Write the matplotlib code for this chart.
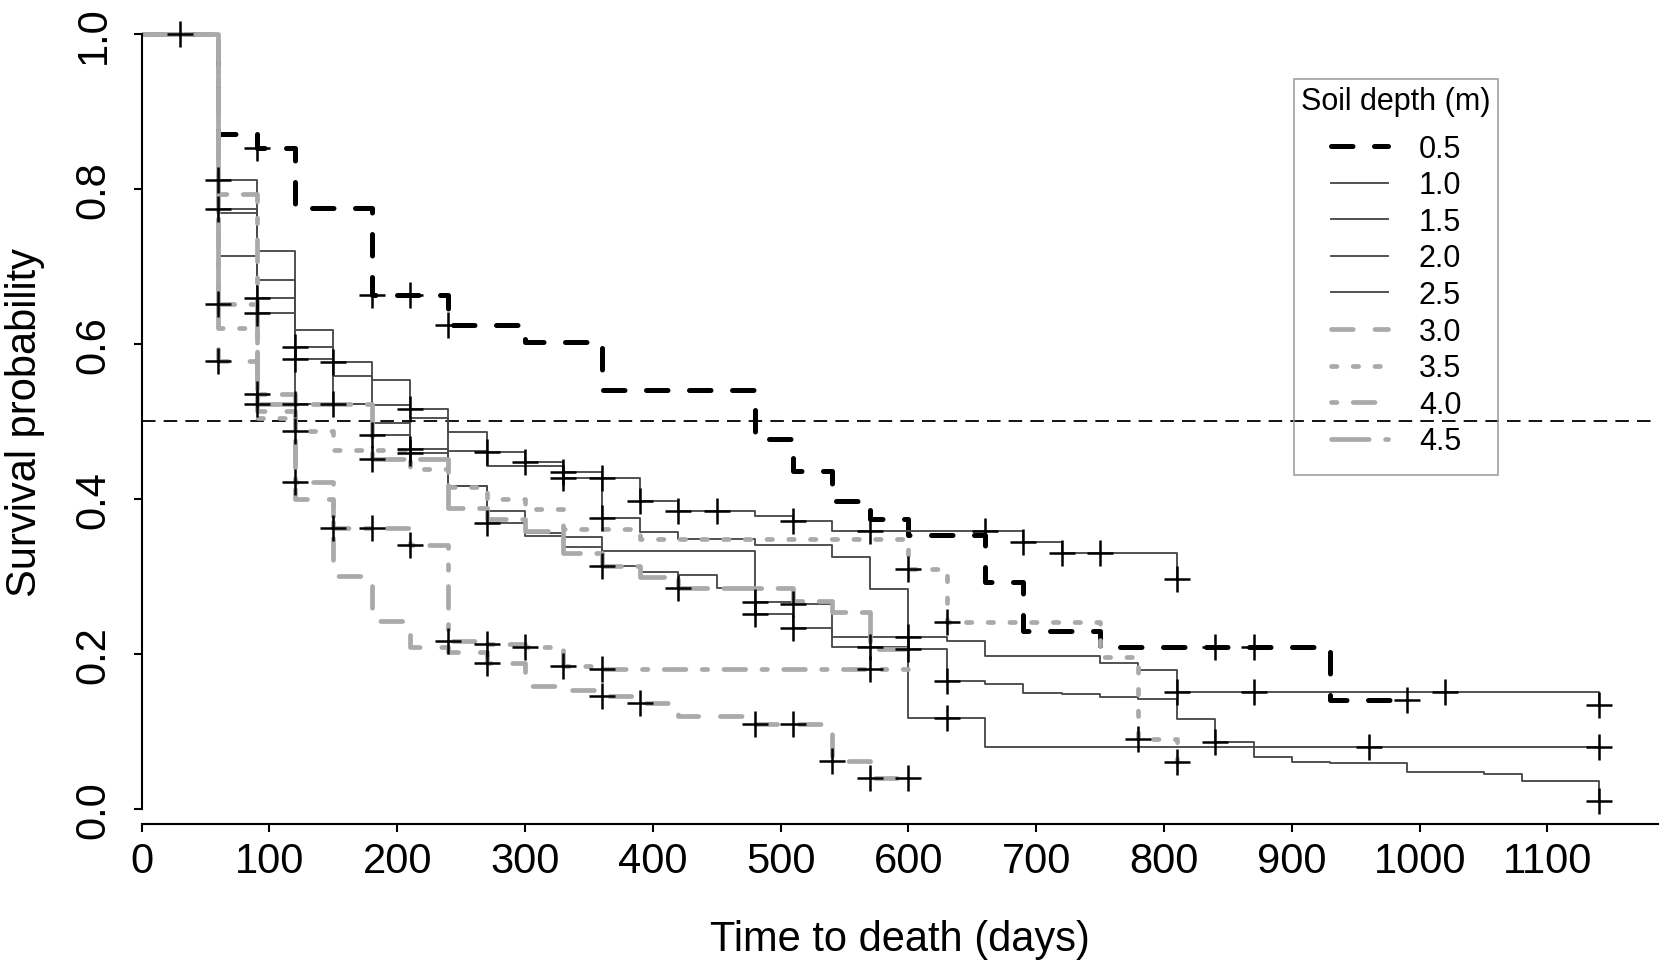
import matplotlib
matplotlib.use("Agg")
import matplotlib.pyplot as plt
from matplotlib.lines import Line2D
from matplotlib.patches import Rectangle

plt.rcParams['font.family'] = ['Liberation Sans', 'DejaVu Sans']

# ---------------- data ----------------
depth_labels = ["0.5", "1.0", "1.5", "2.0", "2.5", "3.0", "3.5", "4.0", "4.5"]

# 0.5 m
t05 = [0, 60, 90, 120, 180, 240, 300, 360, 480, 510, 540, 570, 600, 660, 690, 750, 930, 990]
s05 = [1.0, 0.871, 0.853, 0.776, 0.663, 0.624, 0.603, 0.541, 0.478, 0.436, 0.397, 0.374,
       0.354, 0.2925, 0.230, 0.209, 0.140, 0.140]
ct05 = [30, 90, 180, 210, 240, 840, 870, 990]
cs05 = [1.0, 0.853, 0.663, 0.663, 0.624, 0.209, 0.209, 0.140]

# 1.0 m
t10 = [0, 60, 90, 120, 150, 180, 210, 240, 270, 300, 330, 360, 390, 420, 480, 510, 540, 690, 720, 810]
s10 = [1.0, 0.812, 0.720, 0.6185, 0.577, 0.553, 0.516, 0.487, 0.461, 0.448, 0.435, 0.427,
       0.397, 0.384, 0.3785, 0.372, 0.359, 0.345, 0.330, 0.297]
ct10 = [60, 150, 210, 270, 300, 330, 360, 390, 420, 450, 510, 570, 660, 690, 720, 750, 810]
cs10 = [0.812, 0.577, 0.516, 0.461, 0.448, 0.435, 0.427, 0.397, 0.384, 0.384, 0.372, 0.359,
        0.359, 0.345, 0.330, 0.330, 0.297]

# 1.5 m
t15 = [0, 60, 90, 120, 150, 180, 210, 240, 270, 330, 360, 390, 420, 480, 540, 570, 600, 630,
       660, 750, 780, 810, 1140]
s15 = [1.0, 0.774, 0.682, 0.596, 0.559, 0.521, 0.505, 0.462, 0.443, 0.427, 0.376, 0.358,
       0.348, 0.341, 0.325, 0.284, 0.222, 0.217, 0.198, 0.189, 0.179, 0.151, 0.134]
ct15 = [60, 120, 330, 360, 600, 810, 870, 1020, 1140]
cs15 = [0.774, 0.596, 0.427, 0.376, 0.222, 0.151, 0.151, 0.151, 0.134]

# 2.0 m
t20 = [0, 60, 90, 120, 150, 180, 210, 240, 270, 300, 330, 360, 480, 510, 540, 600, 630, 660,
       690, 720, 750, 780, 810, 840, 870, 1140]
s20 = [1.0, 0.769, 0.659, 0.581, 0.523, 0.498, 0.464, 0.417, 0.384, 0.356, 0.351, 0.333,
       0.267, 0.2645, 0.222, 0.206, 0.1656, 0.161, 0.150, 0.148, 0.145, 0.142, 0.116, 0.087,
       0.0796, 0.0796]
ct20 = [90, 120, 210, 480, 510, 600, 630, 840, 960, 1140]
cs20 = [0.659, 0.581, 0.464, 0.267, 0.2645, 0.206, 0.1656, 0.087, 0.0796, 0.0796]

# 2.5 m
t25 = [0, 60, 90, 120, 180, 210, 240, 270, 300, 330, 360, 390, 420, 450, 480, 510, 540, 600,
       660, 870, 900, 930, 990, 1050, 1080, 1140]
s25 = [1.0, 0.713, 0.640, 0.523, 0.483, 0.459, 0.417, 0.369, 0.352, 0.338, 0.314, 0.306,
       0.302, 0.285, 0.252, 0.234, 0.209, 0.118, 0.0796, 0.0667, 0.061, 0.0594, 0.0473,
       0.0452, 0.0366, 0.0099]
ct25 = [90, 120, 150, 180, 210, 270, 360, 480, 510, 570, 630, 1140]
cs25 = [0.640, 0.523, 0.523, 0.483, 0.459, 0.369, 0.314, 0.252, 0.234, 0.209, 0.118, 0.0099]

# 3.0 m
t30 = [0, 60, 90, 120, 150, 180, 210, 240, 270, 300, 330, 360, 390, 420, 480, 540, 570, 600]
s30 = [1.0, 0.578, 0.513, 0.400, 0.301, 0.243, 0.2086, 0.202, 0.188, 0.159, 0.153, 0.146,
       0.137, 0.120, 0.110, 0.062, 0.040, 0.040]
ct30 = [60, 270, 360, 390, 480, 510, 540, 570, 600]
cs30 = [0.578, 0.188, 0.146, 0.137, 0.110, 0.110, 0.062, 0.040, 0.040]

# 3.5 m
t35 = [0, 60, 90, 120, 150, 210, 240, 270, 300, 330, 390, 600, 630, 750, 780, 810]
s35 = [1.0, 0.620, 0.505, 0.488, 0.4637, 0.4387, 0.415, 0.400, 0.387, 0.361, 0.348, 0.310,
       0.241, 0.196, 0.0903, 0.0606]
ct35 = [120, 600, 630, 780, 810]
cs35 = [0.488, 0.310, 0.241, 0.0903, 0.0606]

# 4.0 m
t40 = [0, 60, 90, 120, 150, 210, 240, 270, 300, 330, 360, 600]
s40 = [1.0, 0.794, 0.5355, 0.4215, 0.363, 0.340, 0.217, 0.213, 0.209, 0.185, 0.180, 0.180]
ct40 = [90, 120, 150, 180, 210, 240, 270, 300, 330, 360, 570]
cs40 = [0.5355, 0.4215, 0.363, 0.363, 0.340, 0.217, 0.213, 0.209, 0.185, 0.180, 0.180]

# 4.5 m
t45 = [0, 60, 90, 180, 240, 270, 300, 330, 360, 390, 420, 510, 540, 570, 600]
s45 = [1.0, 0.651, 0.522, 0.452, 0.389, 0.374, 0.359, 0.330, 0.314, 0.299, 0.285, 0.268,
       0.254, 0.206, 0.206]
ct45 = [60, 90, 180, 420]
cs45 = [0.651, 0.522, 0.452, 0.285]

x_ticks = [0, 100, 200, 300, 400, 500, 600, 700, 800, 900, 1000, 1100]
y_ticks = [0.0, 0.2, 0.4, 0.6, 0.8, 1.0]
y_tick_labels = ["0.0", "0.2", "0.4", "0.6", "0.8", "1.0"]

# ---------------- styles ----------------
BLACK = "#000000"
SOLID = "#4a4a4a"
GRAY = "#aaaaaa"
dashed_k = (0, (4.3, 4.3))
dashed_g = (0, (4.6, 4.6))
dotted_g = (0, (1.15, 3.45))
dotdash_g = (0, (1.15, 3.45, 4.6, 3.45))
longdash_g = (0, (8.0, 3.45))

styles = [
    dict(color=BLACK, lw=3.6, ls=dashed_k),
    dict(color=SOLID, lw=1.35, ls="-"),
    dict(color=SOLID, lw=1.35, ls="-"),
    dict(color=SOLID, lw=1.35, ls="-"),
    dict(color=SOLID, lw=1.35, ls="-"),
    dict(color=GRAY, lw=3.4, ls=dashed_g),
    dict(color=GRAY, lw=3.4, ls=dotted_g),
    dict(color=GRAY, lw=3.4, ls=dotdash_g),
    dict(color=GRAY, lw=3.4, ls=longdash_g),
]

curves = [
    (t05, s05, ct05, cs05), (t10, s10, ct10, cs10), (t15, s15, ct15, cs15),
    (t20, s20, ct20, cs20), (t25, s25, ct25, cs25), (t30, s30, ct30, cs30),
    (t35, s35, ct35, cs35), (t40, s40, ct40, cs40), (t45, s45, ct45, cs45),
]

# ---------------- figure ----------------
W, H = 1666, 970
fig = plt.figure(figsize=(W / 100, H / 100), dpi=100)
ax = fig.add_axes([0.0850, 0.1495, 0.9102, 0.8299])
XMAX = 1186.5
ax.set_xlim(0, XMAX)
ax.set_ylim(-0.01935, 1.01935)

ax.axhline(0.5, color="black", lw=1.3, ls=(0, (7.5, 4.5)), zorder=1)

for (t, s, ct, cs), st in zip(curves, styles):
    ax.plot(t, s, drawstyle="steps-post", color=st["color"], lw=st["lw"],
            linestyle=st["ls"], dash_capstyle="round", solid_capstyle="butt",
            dash_joinstyle="round", zorder=2)
    ax.plot(ct, cs, linestyle="none", marker="+", ms=19, mew=1.8,
            color="black", zorder=3)

for side in ("top", "right"):
    ax.spines[side].set_visible(False)
ax.spines["left"].set_bounds(0, 1)
ax.spines["bottom"].set_bounds(0, XMAX)
for side in ("left", "bottom"):
    ax.spines[side].set_linewidth(1.5)

ax.set_xticks(x_ticks)
ax.set_xticklabels([str(v) for v in x_ticks])
ax.set_yticks(y_ticks)
ax.set_yticklabels(y_tick_labels, rotation=90, va="center")
ax.tick_params(axis="both", direction="out", length=5.5, width=1.5,
               labelsize=30, color="black")
ax.tick_params(axis="x", pad=6.5)
ax.tick_params(axis="y", pad=14.5)

ax.set_xlabel("Time to death (days)", fontsize=30)
ax.set_ylabel("Survival probability", fontsize=30)
ax.xaxis.set_label_coords(0.5, -0.118)
ax.yaxis.set_label_coords(-0.0637, 0.5)

# legend (entries without frame) + frame drawn separately
handles = [Line2D([], [], color=st["color"], lw=st["lw"], linestyle=st["ls"],
                  dash_capstyle="round") for st in styles]
box_l, box_r, box_t, box_b = 1294, 1498, 80, 476
leg = ax.legend(handles, depth_labels, title="Soil depth (m)",
                loc="upper center",
                bbox_to_anchor=((box_l + box_r) / 2 / W, 1 - 87 / H),
                bbox_transform=fig.transFigure, borderaxespad=0, borderpad=0,
                fontsize=22, title_fontsize=22, frameon=False,
                handlelength=1.88, handletextpad=1.0, labelspacing=0.215)
leg._legend_box.sep = 12.8
fig.patches.append(Rectangle((box_l / W, 1 - box_b / H), (box_r - box_l) / W,
                             (box_b - box_t) / H, transform=fig.transFigure,
                             fill=False, edgecolor="#999999", linewidth=1.1))

fig.savefig("out.png", dpi=100)
